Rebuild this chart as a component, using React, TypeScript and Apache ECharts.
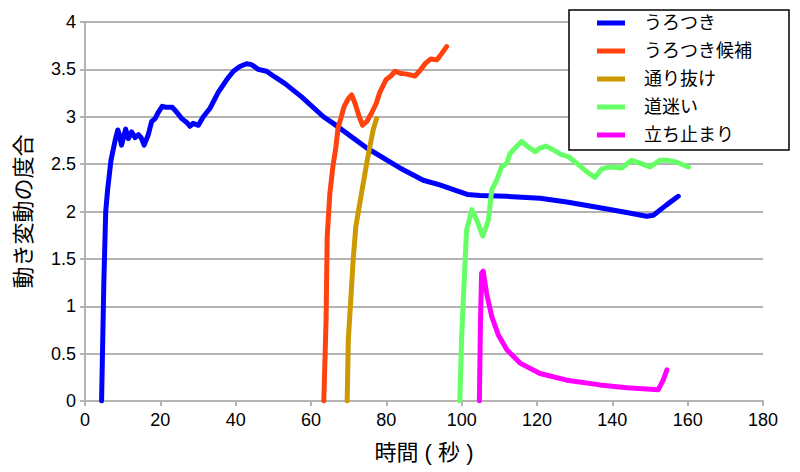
import React, { useEffect, useRef } from "react";
import * as echarts from "echarts";

const seriesNames = ["うろつき", "うろつき候補", "通り抜け", "道迷い", "立ち止まり"];
const seriesColors = ["#0000ff", "#ff420e", "#cc9900", "#66ff66", "#ff00ff"];

const wander: number[][] = [
  [4.4, 0], [5.0, 1.25], [5.5, 2.0], [6.0, 2.23], [6.9, 2.54], [8.0, 2.75], [8.7, 2.86], [9.0, 2.83],
  [9.7, 2.7], [10.8, 2.87], [11.5, 2.77], [12.4, 2.84], [13.3, 2.78], [14.2, 2.81], [14.9, 2.78],
  [15.7, 2.7], [16.8, 2.81], [17.7, 2.95], [18.6, 2.98], [19.5, 3.05], [20.5, 3.11], [21.5, 3.1],
  [23.2, 3.1], [24.3, 3.05], [25.7, 2.98], [27.0, 2.94], [27.9, 2.9], [28.7, 2.93], [30.1, 2.91],
  [31.4, 3.0], [33.2, 3.09], [35.4, 3.26], [37.6, 3.39], [39.4, 3.48], [41.1, 3.53], [42.9, 3.56],
  [44.2, 3.55], [46.0, 3.5], [48.2, 3.48], [50.4, 3.42], [53.1, 3.35], [57.5, 3.21], [63.3, 3.0],
  [65.9, 2.93], [74.8, 2.67], [83.6, 2.46], [89.8, 2.33], [94.2, 2.28], [97.8, 2.23], [101.5, 2.18],
  [104.9, 2.17], [111.9, 2.16], [120.8, 2.14], [127.9, 2.1], [136.7, 2.04], [143.8, 1.99],
  [149.1, 1.95], [150.9, 1.96], [154.4, 2.07], [157.5, 2.16],
];

const wanderCandidate: number[][] = [
  [63.4, 0], [64.0, 0.85], [64.3, 1.73], [65.0, 2.19], [65.8, 2.47], [66.6, 2.68], [67.2, 2.89],
  [67.9, 2.98], [68.8, 3.11], [69.9, 3.19], [70.8, 3.23], [71.7, 3.14], [72.8, 3.0], [73.7, 2.91],
  [74.8, 2.95], [76.1, 3.04], [77.3, 3.14], [78.3, 3.26], [79.9, 3.39], [81.2, 3.43], [82.3, 3.48],
  [83.6, 3.46], [85.4, 3.45], [87.6, 3.43], [89.0, 3.49], [90.3, 3.56], [91.8, 3.61], [93.4, 3.6],
  [94.2, 3.64], [96.0, 3.74],
];

const passThrough: number[][] = [
  [69.6, 0], [69.9, 0.64], [70.5, 1.03], [71.2, 1.49], [71.9, 1.84], [72.8, 2.05], [73.7, 2.26],
  [74.8, 2.51], [75.6, 2.68], [76.5, 2.86], [77.4, 2.98],
];

const lost: number[][] = [
  [99.5, 0], [100.0, 0.68], [100.6, 1.21], [101.3, 1.8], [102.7, 2.02], [104.0, 1.91], [105.6, 1.74],
  [107.1, 1.91], [108.0, 2.23], [109.3, 2.33], [110.6, 2.47], [112.0, 2.51], [112.8, 2.61],
  [114.2, 2.67], [115.9, 2.74], [117.7, 2.68], [119.5, 2.63], [120.8, 2.67], [122.4, 2.69],
  [124.3, 2.65], [126.5, 2.6], [128.3, 2.58], [130.5, 2.51], [133.2, 2.42], [135.4, 2.36],
  [137.2, 2.45], [139.4, 2.47], [142.5, 2.46], [145.1, 2.54], [147.3, 2.51], [150.0, 2.47],
  [152.6, 2.54], [154.8, 2.54], [157.1, 2.52], [160.2, 2.47],
];

const standStill: number[][] = [
  [104.7, 0], [105.0, 0.85], [105.3, 1.35], [105.7, 1.37], [106.6, 1.14], [108.0, 0.89], [109.7, 0.7],
  [112.0, 0.54], [115.5, 0.4], [120.8, 0.29], [127.9, 0.22], [136.7, 0.17], [143.8, 0.14],
  [152.2, 0.12], [153.5, 0.22], [154.5, 0.33],
];

const seriesData = [wander, wanderCandidate, passThrough, lost, standStill];

const xAxisTitle = "時間 ( 秒 )";
const yAxisTitle = "動き変動の度合";

const FONT = "'Liberation Sans', 'Noto Sans CJK JP', sans-serif";

export default function App() {
  const ref = useRef<HTMLDivElement>(null);
  useEffect(() => {
    if (!ref.current) return;
    const chart = echarts.init(ref.current, undefined, { renderer: "svg" });
    const gray = "#b3b3b3";
    chart.setOption({
      animation: false,
      backgroundColor: "#ffffff",
      textStyle: { fontFamily: FONT, color: "#000" },
      grid: { left: 85, right: 37, top: 22, bottom: 71 },
      legend: {
        orient: "vertical",
        left: 569,
        top: 10,
        padding: [4, 37, 6, 28],
        itemGap: 10,
        itemWidth: 28,
        itemHeight: 5,
        icon: "rect",
        borderColor: "#000",
        borderWidth: 1.5,
        backgroundColor: "#fff",
        textStyle: { fontSize: 18, color: "#000", fontFamily: FONT, padding: [0, 0, 0, 14], lineHeight: 18 },
        data: seriesNames,
      },
      xAxis: {
        type: "value",
        min: 0,
        max: 180,
        interval: 20,
        name: xAxisTitle,
        nameLocation: "middle",
        nameGap: 40,
        nameTextStyle: { fontSize: 22, color: "#000", fontFamily: FONT },
        axisLine: { show: true, lineStyle: { color: gray, width: 2 } },
        axisTick: { show: true, length: 5, lineStyle: { color: gray, width: 2 } },
        axisLabel: { fontSize: 18, color: "#000", margin: 10, fontFamily: FONT },
        splitLine: { show: false },
      },
      yAxis: {
        type: "value",
        min: 0,
        max: 4,
        interval: 0.5,
        name: yAxisTitle,
        nameLocation: "middle",
        nameRotate: 90,
        nameGap: 51,
        nameTextStyle: { fontSize: 22, color: "#000", fontFamily: FONT },
        axisLine: { show: true, lineStyle: { color: gray, width: 2 } },
        axisTick: { show: true, length: 5, lineStyle: { color: gray, width: 2 } },
        axisLabel: { fontSize: 18, color: "#000", margin: 9, fontFamily: FONT },
        splitLine: { show: true, lineStyle: { color: gray, width: 2 } },
      },
      series: seriesNames.map((name, i) => ({
        name,
        type: "line",
        data: seriesData[i],
        showSymbol: false,
        symbol: "none",
        color: seriesColors[i],
        lineStyle: { color: seriesColors[i], width: 5, join: "round", cap: "round" },
        itemStyle: { color: seriesColors[i] },
        z: 2,
      })),
    });
    return () => chart.dispose();
  }, []);
  return (
    <div
      ref={ref}
      style={{ position: "fixed", left: 0, top: 0, width: 800, height: 472, background: "#fff" }}
    />
  );
}
